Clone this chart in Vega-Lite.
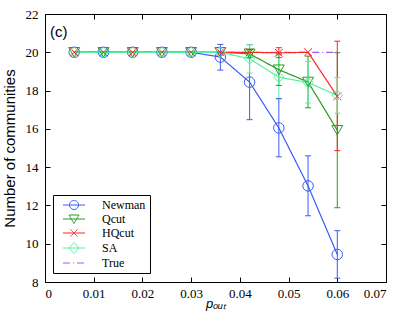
{
  "$schema": "https://vega.github.io/schema/vega-lite/v6.json",
  "width": 341,
  "height": 268,
  "autosize": {"type": "none"},
  "padding": {"left": 45, "top": 14, "right": 19, "bottom": 36},
  "background": "white",
  "config": {
    "view": {"stroke": "black", "strokeWidth": 1},
    "axis": {
      "grid": false,
      "domain": false,
      "tickColor": "black",
      "tickSize": -5,
      "labelColor": "black",
      "labelFont": "Liberation Sans Narrow",
      "labelFontSize": 13,
      "titleFont": "Liberation Sans",
      "titleFontWeight": "normal",
      "titleColor": "black"
    }
  },
  "title": {
    "text": "(c)",
    "anchor": "start",
    "frame": "group",
    "orient": "top",
    "offset": -44,
    "dx": 5,
    "baseline": "alphabetic",
    "font": "Liberation Sans",
    "fontSize": 15,
    "fontWeight": "normal",
    "color": "black"
  },
  "data": {
    "values": [
      {"m": "True", "p": 0.006, "v": 20},
      {"m": "True", "p": 0.012, "v": 20},
      {"m": "True", "p": 0.018, "v": 20},
      {"m": "True", "p": 0.024, "v": 20},
      {"m": "True", "p": 0.030, "v": 20},
      {"m": "True", "p": 0.036, "v": 20},
      {"m": "True", "p": 0.042, "v": 20},
      {"m": "True", "p": 0.048, "v": 20},
      {"m": "True", "p": 0.054, "v": 20},
      {"m": "True", "p": 0.060, "v": 20},
      {"m": "Newman", "p": 0.006, "v": 20},
      {"m": "Newman", "p": 0.012, "v": 20},
      {"m": "Newman", "p": 0.018, "v": 20},
      {"m": "Newman", "p": 0.024, "v": 20},
      {"m": "Newman", "p": 0.030, "v": 20},
      {"m": "Newman", "p": 0.036, "v": 19.75, "lo": 19.07, "hi": 20.41},
      {"m": "Newman", "p": 0.042, "v": 18.44, "lo": 16.48, "hi": 20.4},
      {"m": "Newman", "p": 0.048, "v": 16.05, "lo": 14.54, "hi": 17.58},
      {"m": "Newman", "p": 0.054, "v": 13.02, "lo": 11.46, "hi": 14.59},
      {"m": "Newman", "p": 0.060, "v": 9.44, "lo": 8.2, "hi": 10.68},
      {"m": "Qcut", "p": 0.006, "v": 20},
      {"m": "Qcut", "p": 0.012, "v": 20},
      {"m": "Qcut", "p": 0.018, "v": 20},
      {"m": "Qcut", "p": 0.024, "v": 20},
      {"m": "Qcut", "p": 0.030, "v": 20},
      {"m": "Qcut", "p": 0.036, "v": 20},
      {"m": "Qcut", "p": 0.042, "v": 19.92, "lo": 19.72, "hi": 20.12},
      {"m": "Qcut", "p": 0.048, "v": 19.09, "lo": 18.27, "hi": 19.91},
      {"m": "Qcut", "p": 0.054, "v": 18.45, "lo": 17.1, "hi": 19.8},
      {"m": "Qcut", "p": 0.060, "v": 15.93, "lo": 11.88, "hi": 19.98},
      {"m": "HQcut", "p": 0.006, "v": 20},
      {"m": "HQcut", "p": 0.012, "v": 20},
      {"m": "HQcut", "p": 0.018, "v": 20},
      {"m": "HQcut", "p": 0.024, "v": 20},
      {"m": "HQcut", "p": 0.030, "v": 20},
      {"m": "HQcut", "p": 0.036, "v": 20},
      {"m": "HQcut", "p": 0.042, "v": 20, "lo": 19.85, "hi": 20.15},
      {"m": "HQcut", "p": 0.048, "v": 19.97, "lo": 19.72, "hi": 20.24},
      {"m": "HQcut", "p": 0.054, "v": 20},
      {"m": "HQcut", "p": 0.060, "v": 17.7, "lo": 14.86, "hi": 20.58},
      {"m": "SA", "p": 0.006, "v": 20},
      {"m": "SA", "p": 0.012, "v": 20},
      {"m": "SA", "p": 0.018, "v": 20},
      {"m": "SA", "p": 0.024, "v": 20},
      {"m": "SA", "p": 0.030, "v": 20},
      {"m": "SA", "p": 0.036, "v": 20},
      {"m": "SA", "p": 0.042, "v": 19.66, "lo": 18.92, "hi": 20.4},
      {"m": "SA", "p": 0.048, "v": 18.7, "lo": 17.56, "hi": 19.84},
      {"m": "SA", "p": 0.054, "v": 18.42, "lo": 17.35, "hi": 19.52},
      {"m": "SA", "p": 0.060, "v": 17.75, "lo": 16.82, "hi": 18.68}
    ]
  },
  "layer": [
    {
      "transform": [{"filter": "isValid(datum.lo)"}],
      "mark": {"type": "rule", "strokeWidth": 1},
      "encoding": {
        "x": {"field": "p", "type": "quantitative", "scale": {"domain": [0, 0.07], "nice": false, "zero": false},
          "axis": {"orient": "bottom", "values": [0, 0.01, 0.02, 0.03, 0.04, 0.05, 0.06, 0.07], "format": "~g", "labelPadding": 10, "title": "pₒᵤₜ", "titleFontSize": 13, "titleFontStyle": "italic", "titlePadding": -3}},
        "y": {"field": "lo", "type": "quantitative", "scale": {"domain": [8, 22], "nice": false, "zero": false},
          "axis": {"orient": "left", "values": [8, 10, 12, 14, 16, 18, 20, 22], "labelPadding": 12, "title": "Number of communities", "titleFontSize": 15, "titlePadding": 8}},
        "y2": {"field": "hi"},
        "color": {"field": "m", "type": "nominal"}
      }
    },
    {
      "transform": [{"filter": "isValid(datum.lo)"}],
      "mark": {"type": "rule", "strokeWidth": 1, "xOffset": -3, "x2Offset": 3},
      "encoding": {
        "x": {"field": "p", "type": "quantitative", "scale": {"domain": [0, 0.07], "nice": false, "zero": false},
          "axis": {"orient": "top", "values": [0, 0.01, 0.02, 0.03, 0.04, 0.05, 0.06, 0.07], "labels": false, "title": null}},
        "x2": {"field": "p"},
        "y": {"field": "lo", "type": "quantitative", "scale": {"domain": [8, 22], "nice": false, "zero": false},
          "axis": {"orient": "right", "values": [8, 10, 12, 14, 16, 18, 20, 22], "labels": false, "title": null}},
        "color": {"field": "m", "type": "nominal"}
      }
    },
    {
      "transform": [{"filter": "isValid(datum.hi)"}],
      "mark": {"type": "rule", "strokeWidth": 1, "xOffset": -3, "x2Offset": 3},
      "encoding": {
        "x": {"field": "p", "type": "quantitative", "axis": null},
        "x2": {"field": "p"},
        "y": {"field": "hi", "type": "quantitative", "axis": null},
        "color": {"field": "m", "type": "nominal"}
      }
    },
    {
      "mark": {"type": "line", "strokeWidth": 1.2},
      "encoding": {
        "x": {"field": "p", "type": "quantitative", "axis": null},
        "y": {"field": "v", "type": "quantitative", "axis": null},
        "color": {"field": "m", "type": "nominal",
          "scale": {"domain": ["Newman", "Qcut", "HQcut", "SA", "True"], "range": ["#3a5cf5", "#2a9a1e", "#ff2424", "#55f0a0", "#a855f7"]},
          "legend": {
            "title": null,
            "orient": "none",
            "legendX": 8,
            "legendY": 181,
            "strokeColor": "black",
            "fillColor": "white",
            "padding": 4,
            "labelFont": "Liberation Sans Narrow",
            "labelFontSize": 12,
            "labelColor": "black",
            "symbolSize": 100,
            "symbolOffset": 11,
            "labelOffset": 22,
            "rowPadding": 1,
            "labelExpr": "datum.label + '\u00a0\u00a0\u00a0\u00a0\u00a0\u00a0'",
            "encode": {
              "symbols": {
                "update": {
                  "shape": {"signal": "datum.value === 'Newman' ? 'M-3.2,0M-2.2,0H2.2M0.9,0A0.9,0.9 0 1,1 -0.9,0A0.9,0.9 0 1,1 0.9,0' : datum.value === 'Qcut' ? 'M-3.2,0M-2.2,0H2.2M-1,-0.8H1L0,0.9Z' : datum.value === 'HQcut' ? 'M-3.2,0M-2.2,0H2.2M-0.7,-0.7L0.7,0.7M0.7,-0.7L-0.7,0.7' : datum.value === 'SA' ? 'M-3.2,0M-2.2,0H2.2M0,-1.1L1,0L0,1.1L-1,0Z' : 'M-3.2,0M-2.2,0H2.2'"},
                  "fill": {"value": "transparent"},
                  "strokeWidth": {"value": 1},
                  "opacity": {"value": 1}
                }
              }
            }
          }},
        "strokeDash": {"field": "m", "type": "nominal", "legend": null,
          "scale": {"domain": ["Newman", "Qcut", "HQcut", "SA", "True"], "range": [[1, 0], [1, 0], [1, 0], [1, 0], [7, 3, 1, 3]]}}
      }
    },
    {
      "transform": [{"filter": "datum.m === 'Newman'"}],
      "mark": {"type": "point", "filled": false, "strokeWidth": 1, "size": 110, "opacity": 1, "shape": "circle"},
      "encoding": {
        "x": {"field": "p", "type": "quantitative", "axis": null},
        "y": {"field": "v", "type": "quantitative", "axis": null},
        "color": {"field": "m", "type": "nominal"}
      }
    },
    {
      "transform": [{"filter": "datum.m === 'Qcut'"}],
      "mark": {"type": "point", "filled": false, "strokeWidth": 1, "size": 120, "opacity": 1, "shape": "triangle-down"},
      "encoding": {
        "x": {"field": "p", "type": "quantitative", "axis": null},
        "y": {"field": "v", "type": "quantitative", "axis": null},
        "color": {"field": "m", "type": "nominal"}
      }
    },
    {
      "transform": [{"filter": "datum.m === 'HQcut'"}],
      "mark": {"type": "point", "filled": false, "strokeWidth": 1, "size": 110, "opacity": 1, "shape": "M-0.75,-0.75L0.75,0.75M0.75,-0.75L-0.75,0.75"},
      "encoding": {
        "x": {"field": "p", "type": "quantitative", "axis": null},
        "y": {"field": "v", "type": "quantitative", "axis": null},
        "color": {"field": "m", "type": "nominal"}
      }
    },
    {
      "transform": [{"filter": "datum.m === 'SA'"}],
      "mark": {"type": "point", "filled": false, "strokeWidth": 1, "size": 110, "opacity": 1, "shape": "diamond"},
      "encoding": {
        "x": {"field": "p", "type": "quantitative", "axis": null},
        "y": {"field": "v", "type": "quantitative", "axis": null},
        "color": {"field": "m", "type": "nominal"}
      }
    }
  ],
  "resolve": {"axis": {"x": "independent", "y": "independent"}}
}
